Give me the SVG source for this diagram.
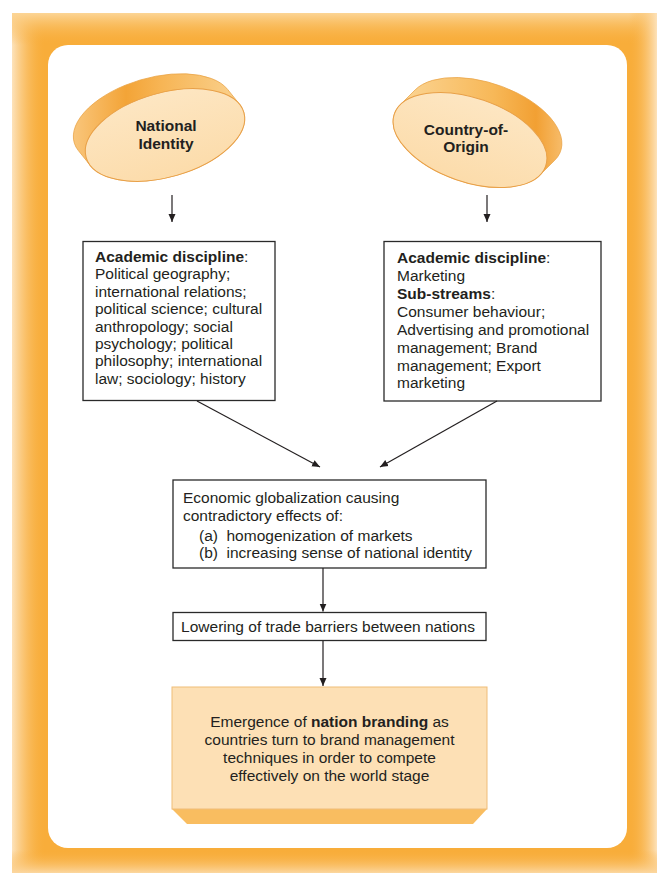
<svg xmlns="http://www.w3.org/2000/svg" width="657" height="873" viewBox="0 0 657 873">
<style>
.t{font-family:"Liberation Sans",Arial,sans-serif;font-size:15.5px;fill:#231f20}
.b{font-weight:bold}
.lbl{font-family:"Liberation Sans",Arial,sans-serif;font-size:15.5px;font-weight:bold;fill:#231f20;text-anchor:middle}
.box{fill:#ffffff;stroke:#2a2a2a;stroke-width:1.3}
.face{stroke:#e8a048;stroke-width:1}
.conn{stroke:#231f20;stroke-width:1.2;fill:none}
</style>
<defs>
<marker id="ah" markerUnits="userSpaceOnUse" markerWidth="8" markerHeight="8" refX="8" refY="4" orient="auto">
<path d="M0,0.5 L8,4 L0,7.5 z" fill="#231f20"/>
</marker>
<linearGradient id="gL" x1="12" y1="0" x2="46" y2="0" gradientUnits="userSpaceOnUse"><stop offset="0" stop-color="#fde3bc"/><stop offset="1" stop-color="#f8ad3a" stop-opacity="0"/></linearGradient>
<linearGradient id="gT" x1="0" y1="13" x2="0" y2="45" gradientUnits="userSpaceOnUse"><stop offset="0" stop-color="#fcd596"/><stop offset="1" stop-color="#f8ad3a" stop-opacity="0"/></linearGradient>
<linearGradient id="gR" x1="629" y1="0" x2="657" y2="0" gradientUnits="userSpaceOnUse"><stop offset="0" stop-color="#f8ad3a" stop-opacity="0"/><stop offset="1" stop-color="#fde2ba"/></linearGradient>
<linearGradient id="gB" x1="0" y1="850" x2="0" y2="873" gradientUnits="userSpaceOnUse"><stop offset="0" stop-color="#f8ad3a" stop-opacity="0"/><stop offset="1" stop-color="#fcd7a0"/></linearGradient>
<linearGradient id="sideL" x1="73" y1="0" x2="250" y2="0" gradientUnits="userSpaceOnUse"><stop offset="0" stop-color="#f9c67c"/><stop offset="0.3" stop-color="#f3a437"/><stop offset="0.5" stop-color="#f7b555"/><stop offset="1" stop-color="#fad596"/></linearGradient>
<linearGradient id="sideR" x1="400" y1="0" x2="570" y2="0" gradientUnits="userSpaceOnUse"><stop offset="0" stop-color="#fbd595"/><stop offset="0.55" stop-color="#f7b858"/><stop offset="0.8" stop-color="#f2a033"/><stop offset="1" stop-color="#f8c47a"/></linearGradient>
<linearGradient id="faceG" x1="0" y1="0" x2="0" y2="1"><stop offset="0" stop-color="#fde6c2"/><stop offset="1" stop-color="#fcdcab"/></linearGradient>
</defs>

<g id="frame">
<rect x="12" y="13" width="645" height="860" fill="#f8ad3a"/>
<rect x="12" y="13" width="36" height="860" fill="url(#gL)"/>
<rect x="12" y="13" width="645" height="32" fill="url(#gT)"/>
<rect x="627" y="13" width="30" height="860" fill="url(#gR)"/>
<rect x="12" y="848" width="645" height="25" fill="url(#gB)"/>
<rect x="48" y="45" width="579" height="803" rx="20" ry="20" fill="#ffffff"/>
</g>

<g id="national-identity">
<path d="M90.33,165.54 L78.33,150.54 A82 42 -16 0 1 227.67,89.46 L239.67,104.46 A82 42 -16 0 1 90.33,165.54 Z" fill="url(#sideL)" stroke="#eaa448" stroke-width="0.8"/>
<ellipse class="face" cx="165" cy="135" rx="82" ry="42" transform="rotate(-16 165 135)" fill="url(#faceG)"/>
<text class="lbl" x="166" y="131">National</text>
<text class="lbl" x="166" y="149">Identity</text>
</g>

<g id="country-of-origin">
<path d="M400.11,104.92 L415.11,89.92 A80 42 19 0 1 554.89,160.08 L539.89,175.08 A80 42 19 0 1 400.11,104.92 Z" fill="url(#sideR)" stroke="#eaa448" stroke-width="0.8"/>
<ellipse class="face" cx="470" cy="140" rx="80" ry="42" transform="rotate(19 470 140)" fill="url(#faceG)"/>
<text class="lbl" x="466" y="135">Country-of-</text>
<text class="lbl" x="466" y="152">Origin</text>
</g>

<g id="ni-discipline">
<rect class="box" x="83" y="241.5" width="192" height="159"/>
<text class="t" x="95" y="262"><tspan class="b">Academic discipline</tspan>:</text>
<text class="t" x="95" y="279.4">Political geography;</text>
<text class="t" x="95" y="296.8">international relations;</text>
<text class="t" x="95" y="314.2">political science; cultural</text>
<text class="t" x="95" y="331.6">anthropology; social</text>
<text class="t" x="95" y="349">psychology; political</text>
<text class="t" x="95" y="366.4">philosophy; international</text>
<text class="t" x="95" y="383.8">law; sociology; history</text>
</g>

<g id="coo-discipline">
<rect class="box" x="384" y="241.5" width="217" height="159.5"/>
<text class="t" x="397" y="263.3"><tspan class="b">Academic discipline</tspan>:</text>
<text class="t" x="397" y="281.2">Marketing</text>
<text class="t" x="397" y="299"><tspan class="b">Sub-streams</tspan>:</text>
<text class="t" x="397" y="316.9">Consumer behaviour;</text>
<text class="t" x="397" y="334.8">Advertising and promotional</text>
<text class="t" x="397" y="352.7">management; Brand</text>
<text class="t" x="397" y="370.6">management; Export</text>
<text class="t" x="397" y="388.4">marketing</text>
</g>

<g id="globalization">
<rect class="box" x="173" y="480" width="313" height="88"/>
<text class="t" x="183" y="503">Economic globalization causing</text>
<text class="t" x="183" y="521">contradictory effects of:</text>
<text class="t" y="540.5"><tspan x="199">(a)</tspan><tspan x="226.5">homogenization of markets</tspan></text>
<text class="t" y="558.3"><tspan x="199">(b)</tspan><tspan x="226.5">increasing sense of national identity</tspan></text>
</g>

<g id="trade-barriers">
<rect class="box" x="173" y="612.5" width="313" height="28"/>
<text class="t" x="328" y="631.5" text-anchor="middle">Lowering of trade barriers between nations</text>
</g>

<g id="nation-branding">
<polygon points="172,809 487,809 473,824 187,824" fill="#f9bd60"/>
<rect x="172" y="687" width="315" height="122" fill="#fde0b5" stroke="#efbd78" stroke-width="1"/>
<text class="t" x="329.5" y="727" text-anchor="middle">Emergence of <tspan class="b">nation branding</tspan> as</text>
<text class="t" x="329.5" y="745" text-anchor="middle">countries turn to brand management</text>
<text class="t" x="329.5" y="762.5" text-anchor="middle">techniques in order to compete</text>
<text class="t" x="329.5" y="780.5" text-anchor="middle">effectively on the world stage</text>
</g>

<g id="connectors">
<line class="conn" x1="172" y1="195" x2="172" y2="222" marker-end="url(#ah)"/>
<line class="conn" x1="487" y1="195" x2="487" y2="222" marker-end="url(#ah)"/>
<line class="conn" x1="197" y1="401" x2="320" y2="467" marker-end="url(#ah)"/>
<line class="conn" x1="497" y1="401" x2="380" y2="467" marker-end="url(#ah)"/>
<line class="conn" x1="323" y1="568" x2="323" y2="611.5" marker-end="url(#ah)"/>
<line class="conn" x1="323" y1="641" x2="323" y2="686" marker-end="url(#ah)"/>
</g>
</svg>
